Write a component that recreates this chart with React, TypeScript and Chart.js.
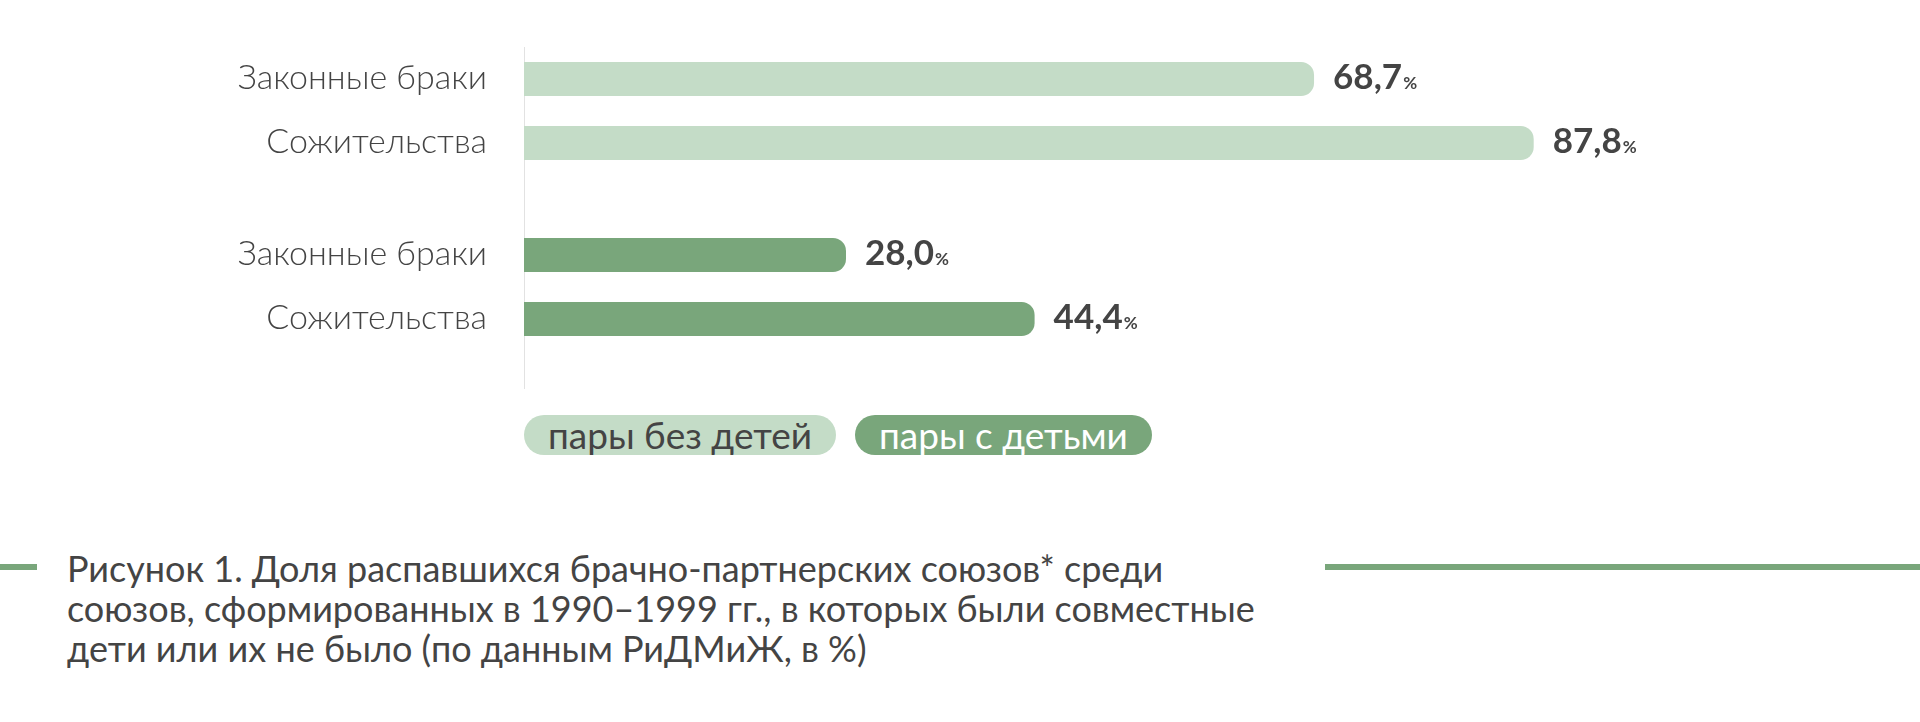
import React, { useEffect, useRef } from "react";
import { Chart, registerables } from "chart.js";

Chart.register(...registerables);

// ---- data ----
const groups: string[] = ["пары без детей", "пары с детьми"];
const unionTypes: string[] = ["Законные браки", "Сожительства"];
const marriageValues: number[] = [68.7, 28.0];
const cohabitationValues: number[] = [87.8, 44.4];
const groupColors: string[] = ["#c4dcc7", "#79a67b"];
const groupTextColors: string[] = ["#444444", "#ffffff"];
const captionLines: string[] = [
  "Рисунок 1. Доля распавшихся брачно-партнерских союзов* среди",
  "союзов, сформированных в 1990–1999 гг., в которых были совместные",
  "дети или их не было (по данным РиДМиЖ, в %)",
];

const TEXT = "#444444";
const FONT = "Lato";

const rowPlugin = {
  id: "rowLabels",
  beforeDatasetsDraw(chart: any) {
    const ctx = chart.ctx;
    const x0 = Math.round(chart.scales.x.getPixelForValue(0)) + 0.5;
    const { top, bottom } = chart.chartArea;
    ctx.save();
    ctx.strokeStyle = "#e2e2e2";
    ctx.lineWidth = 1;
    ctx.beginPath();
    ctx.moveTo(x0, top + 24);
    ctx.lineTo(x0, bottom + 14);
    ctx.stroke();
    ctx.restore();
  },
  afterDatasetsDraw(chart: any) {
    const ctx = chart.ctx;
    const x0 = chart.scales.x.getPixelForValue(0);
    ctx.save();
    chart.data.datasets.forEach((ds: any, di: number) => {
      const meta = chart.getDatasetMeta(di);
      meta.data.forEach((bar: any, i: number) => {
        const v = ds.data[i] as number;
        ctx.fillStyle = TEXT;
        ctx.textBaseline = "alphabetic";
        ctx.textAlign = "right";
        ctx.font = `300 34px ${FONT}`;
        ctx.fillText(ds.label, x0 - 37, bar.y + 10);
        const num = v.toFixed(1).replace(".", ",");
        ctx.textAlign = "left";
        ctx.font = `bold 35px ${FONT}`;
        const tx = bar.x + 19;
        ctx.fillText(num, tx, bar.y + 10);
        const w = ctx.measureText(num).width;
        ctx.font = `bold 17px ${FONT}`;
        ctx.fillText("%", tx + w + 1, bar.y + 10);
      });
    });
    ctx.restore();
  },
};

function BarChart() {
  const ref = useRef<HTMLCanvasElement>(null);
  useEffect(() => {
    if (!ref.current) return;
    const chart = new Chart(ref.current, {
      type: "bar",
      data: {
        labels: groups,
        datasets: [
          {
            label: unionTypes[0],
            data: marriageValues,
            backgroundColor: groupColors,
            borderRadius: 13,
            borderSkipped: "start",
          },
          {
            label: unionTypes[1],
            data: cohabitationValues,
            backgroundColor: groupColors,
            borderRadius: 13,
            borderSkipped: "start",
          },
        ],
      },
      options: {
        indexAxis: "y",
        responsive: false,
        animation: false,
        layout: { padding: { left: 524, right: 246, top: 23, bottom: 25 } },
        plugins: { legend: { display: false }, tooltip: { enabled: false } },
        datasets: { bar: { categoryPercentage: 0.727, barPercentage: 0.531 } },
        scales: {
          x: { display: false, min: 0, max: 100 },
          y: { display: false },
        },
      },
      plugins: [rowPlugin],
    } as any);
    return () => chart.destroy();
  }, []);
  return <canvas ref={ref} width={1920} height={400} style={{ display: "block", width: 1920, height: 400 }} />;
}

export default function App() {
  return (
    <div style={{ position: "absolute", left: 0, top: 0, width: 1920, height: 722, background: "#fff", overflow: "hidden", fontFamily: FONT }}>
      <div style={{ position: "absolute", left: 0, top: 0 }}>
        <BarChart />
      </div>
      <div style={{ position: "absolute", left: 524, top: 415, display: "flex", gap: 19 }}>
        {groups.map((g, i) => (
          <div
            key={g}
            style={{
              height: 40,
              lineHeight: "39px",
              borderRadius: 20,
              background: groupColors[i],
              color: groupTextColors[i],
              fontSize: 37,
              padding: "0 24px",
              whiteSpace: "nowrap",
              overflow: "hidden",
            }}
          >
            {g}
          </div>
        ))}
      </div>
      <div style={{ position: "absolute", left: 0, top: 564, width: 37, height: 6, background: groupColors[1] }} />
      <div style={{ position: "absolute", left: 1325, top: 564, width: 595, height: 6, background: groupColors[1] }} />
      <div style={{ position: "absolute", left: 67, top: 548, color: TEXT, fontSize: 36, lineHeight: "40px", whiteSpace: "nowrap" }}>
        {captionLines.map((l) => (
          <div key={l}>{l}</div>
        ))}
      </div>
    </div>
  );
}
